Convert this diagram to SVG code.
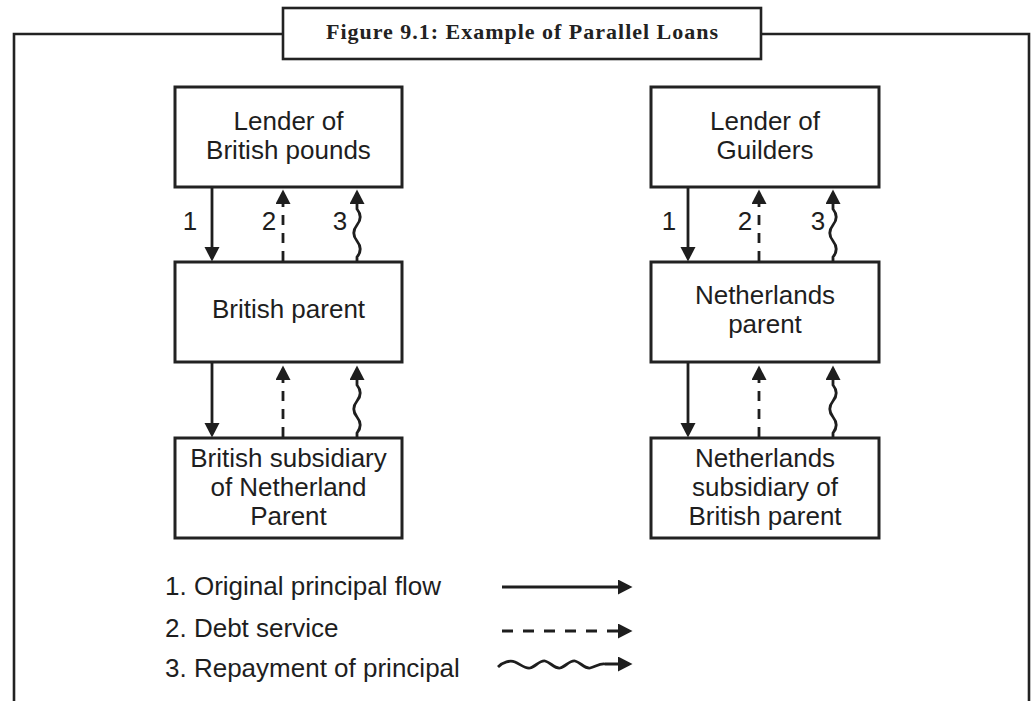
<svg xmlns="http://www.w3.org/2000/svg" width="1031" height="701" viewBox="0 0 1031 701">
<defs>
<style>
.box{fill:#fff;stroke:#222;stroke-width:3}
.lbl{font-family:"Liberation Sans",Arial,sans-serif;font-size:26px;fill:#1e1e1e;text-anchor:middle}
.leg{font-family:"Liberation Sans",Arial,sans-serif;font-size:26px;fill:#1e1e1e}
.ln{fill:none;stroke:#1e1e1e;stroke-width:2.8}
.dash{stroke-dasharray:10 8}
.ldash{stroke-dasharray:11 10}
</style>
<marker id="ah" markerUnits="userSpaceOnUse" markerWidth="16" markerHeight="16" refX="11" refY="7.5" orient="auto" viewBox="0 0 16 16">
<path d="M0,0 L14.5,7.5 L0,15 z" fill="#1e1e1e"/>
</marker>
</defs>
<rect width="1031" height="701" fill="#fff"/>
<g id="frame">
<path d="M14,701 L14,34 L1029,34 L1029,701" fill="none" stroke="#222" stroke-width="2.6"/>
<rect x="283" y="8" width="478" height="51" fill="#fff" stroke="#222" stroke-width="2.6"/>
<text x="522" y="39" font-family="'Liberation Serif','Times New Roman',serif" font-weight="bold" font-size="22" fill="#222" text-anchor="middle" textLength="392" lengthAdjust="spacing">Figure 9.1: Example of Parallel Loans</text>
</g>
<g id="lender-gbp">
<rect class="box" x="175" y="87" width="227" height="100"/>
<text class="lbl" x="288.5" y="130">Lender of</text>
<text class="lbl" x="288.5" y="159">British pounds</text>
</g>
<g id="british-parent">
<rect class="box" x="175" y="262" width="227" height="100"/>
<text class="lbl" x="288.5" y="318">British parent</text>
</g>
<g id="british-sub">
<rect class="box" x="175" y="438" width="227" height="100"/>
<text class="lbl" x="288.5" y="467">British subsidiary</text>
<text class="lbl" x="288.5" y="496">of Netherland</text>
<text class="lbl" x="288.5" y="525">Parent</text>
</g>
<g id="lender-nlg">
<rect class="box" x="651" y="87" width="228" height="100"/>
<text class="lbl" x="765" y="130">Lender of</text>
<text class="lbl" x="765" y="159">Guilders</text>
</g>
<g id="neth-parent">
<rect class="box" x="651" y="262" width="228" height="100"/>
<text class="lbl" x="765" y="304">Netherlands</text>
<text class="lbl" x="765" y="333">parent</text>
</g>
<g id="neth-sub">
<rect class="box" x="651" y="438" width="228" height="100"/>
<text class="lbl" x="765" y="467">Netherlands</text>
<text class="lbl" x="765" y="496">subsidiary of</text>
<text class="lbl" x="765" y="525">British parent</text>
</g>
<g id="connectors">
<path class="ln" d="M212,188 L212,258" marker-end="url(#ah)"/>
<path class="ln dash" d="M283,261 L283,193" marker-end="url(#ah)"/>
<path class="ln" d="M357,261 L357,257 C361,252 361,246 357,241 C353,236 353,230 357,225 C361,220 361,214 357,209 L357,193" marker-end="url(#ah)"/>
<path class="ln" d="M212,363 L212,434" marker-end="url(#ah)"/>
<path class="ln dash" d="M283,437 L283,369" marker-end="url(#ah)"/>
<path class="ln" d="M357,437 L357,433 C361,428 361,422 357,417 C353,412 353,406 357,401 C361,396 361,390 357,385 L357,369" marker-end="url(#ah)"/>
<path class="ln" d="M688,188 L688,258" marker-end="url(#ah)"/>
<path class="ln dash" d="M759,261 L759,193" marker-end="url(#ah)"/>
<path class="ln" d="M833,261 L833,257 C837,252 837,246 833,241 C829,236 829,230 833,225 C837,220 837,214 833,209 L833,193" marker-end="url(#ah)"/>
<path class="ln" d="M688,363 L688,434" marker-end="url(#ah)"/>
<path class="ln dash" d="M759,437 L759,369" marker-end="url(#ah)"/>
<path class="ln" d="M833,437 L833,433 C837,428 837,422 833,417 C829,412 829,406 833,401 C837,396 837,390 833,385 L833,369" marker-end="url(#ah)"/>
<text class="lbl" x="190" y="230">1</text>
<text class="lbl" x="269" y="230">2</text>
<text class="lbl" x="340" y="230">3</text>
<text class="lbl" x="669" y="230">1</text>
<text class="lbl" x="745" y="230">2</text>
<text class="lbl" x="818" y="230">3</text>
</g>
<g id="legend">
<text class="leg" x="165" y="595">1. Original principal flow</text>
<text class="leg" x="165" y="637">2. Debt service</text>
<text class="leg" x="165" y="677">3. Repayment of principal</text>
<path class="ln" d="M502,587 L629,587" marker-end="url(#ah)"/>
<path class="ln ldash" d="M502,631 L629,631" marker-end="url(#ah)"/>
<path class="ln" d="M498,667 C503,662 510,660 515,662 C520,664 525,669 530,668 C535,667 540,660 545,661 C550,662 555,669 560,668 C565,667 570,660 575,661 C580,662 585,669 590,668 C595,667 600,663 605,664 L629,664" marker-end="url(#ah)"/>
</g>
</svg>
